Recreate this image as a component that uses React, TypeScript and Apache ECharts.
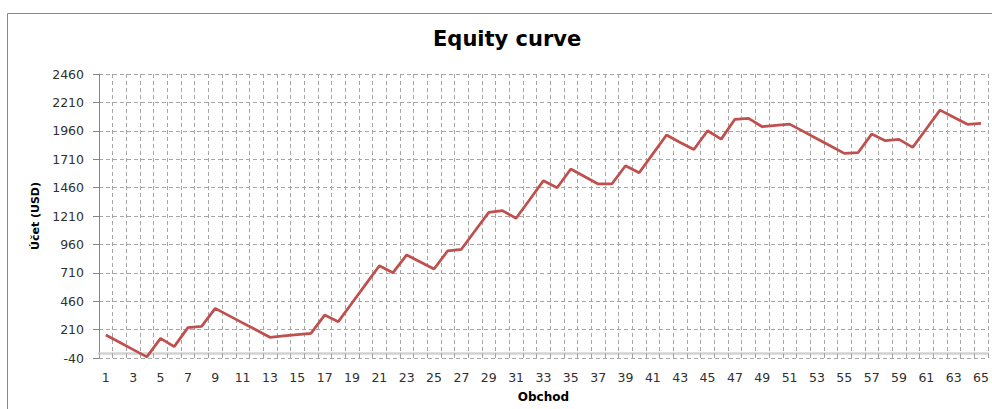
import React, { useEffect, useRef } from "react";
import * as echarts from "echarts";

const trades: string[] = Array.from({ length: 65 }, (_, i) => String(i + 1));

const equity: number[] = [
  162, 98, 34, -30, 133, 60, 227, 239, 397, 333,
  269, 206, 142, 154, 166, 177, 338, 280, 444, 608,
  772, 711, 867, 805, 743, 904, 917, 1080, 1242, 1257,
  1190, 1355, 1521, 1459, 1624, 1558, 1492, 1492, 1652, 1591,
  1757, 1923, 1857, 1795, 1960, 1887, 2061, 2070, 1996, 2008,
  2019, 1955, 1890, 1826, 1761, 1767, 1931, 1873, 1885, 1814,
  1978, 2142, 2080, 2017, 2025,
];

const yTicks: number[] = [-40, 210, 460, 710, 960, 1210, 1460, 1710, 1960, 2210, 2460];

const titleText = "Equity curve";
const xName = "Obchod";
const yName = "Účet (USD)";

export default function App() {
  const ref = useRef<HTMLDivElement>(null);
  useEffect(() => {
    if (!ref.current) return;
    const chart = echarts.init(ref.current, null, { renderer: "svg" });
    const font = "DejaVu Sans";
    const grid = "#a6a6a6";
    chart.setOption({
      animation: false,
      backgroundColor: "#ffffff",
      textStyle: { fontFamily: font },
      title: {
        text: titleText,
        left: 433,
        top: 28,
        padding: 0,
        textStyle: { fontFamily: font, fontSize: 21, fontWeight: "bold", color: "#000" },
      },
      graphic: [
        {
          type: "rect",
          shape: { x: 7.5, y: 13.5, width: 1200, height: 600 },
          style: { fill: "none", stroke: "#878787", lineWidth: 1 },
          silent: true,
        },
      ],
      grid: { left: 99, right: 3, top: 74, bottom: 51, containLabel: false },
      xAxis: {
        type: "category",
        data: trades,
        boundaryGap: true,
        name: xName,
        nameLocation: "middle",
        nameGap: 33,
        nameTextStyle: { fontFamily: font, fontSize: 12, fontWeight: "bold", color: "#000" },
        axisLine: { show: true, onZero: true, lineStyle: { color: "#d3d3d3", width: 2.5 } },
        axisTick: { show: true, interval: 0, length: 4, lineStyle: { color: "#a0a0a0" } },
        axisLabel: { interval: 1, margin: 12.5, fontSize: 12.5, color: "#303030", fontFamily: font },
        splitLine: { show: true, interval: 0, lineStyle: { color: grid, type: [4, 3], width: 1 } },
      },
      yAxis: {
        type: "value",
        min: -40,
        max: 2460,
        name: yName,
        nameLocation: "middle",
        nameGap: 57,
        nameRotate: 90,
        nameTextStyle: { fontFamily: font, fontSize: 11, fontWeight: "bold", color: "#000" },
        axisLine: { show: true, lineStyle: { color: "#868686", width: 1 } },
        axisTick: { show: true, length: 6, customValues: yTicks, lineStyle: { color: "#868686" } },
        axisLabel: {
          customValues: yTicks,
          margin: 15,
          fontSize: 12.5,
          color: "#303030",
          fontFamily: font,
          formatter: (v: number) => String(v),
        },
        splitLine: { show: true, lineStyle: { color: grid, type: [4, 3], width: 1 } },
      },
      series: [
        {
          type: "line",
          data: equity,
          symbol: "none",
          lineStyle: { color: "#c0504d", width: 2.75 },
          itemStyle: { color: "#c0504d" },
        },
      ],
    });
    return () => chart.dispose();
  }, []);
  return (
    <div
      ref={ref}
      style={{ position: "absolute", left: 0, top: 0, width: 992, height: 409 }}
    />
  );
}
